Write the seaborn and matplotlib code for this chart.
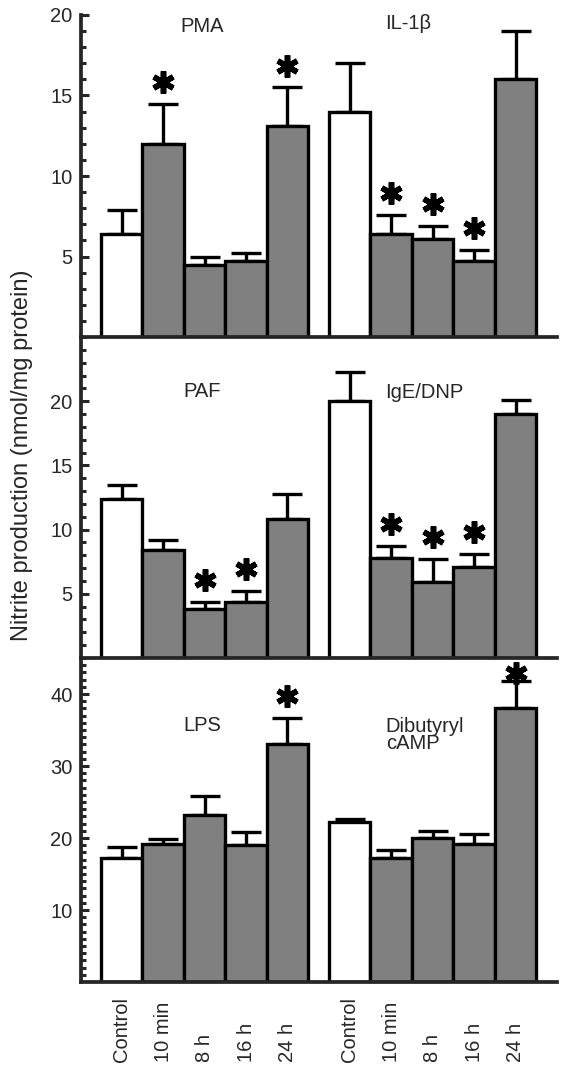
"""
Nitrite production after stimulation - 3 stacked panels, two stimuli per panel
"""

import numpy as np
import pandas as pd
import matplotlib
matplotlib.use("Agg")
import matplotlib.pyplot as plt
import seaborn as sns

sns.set_style("ticks")
plt.rcParams['font.family'] = ['Liberation Sans', 'DejaVu Sans']

# Data: mean and upper error (SEM)
conditions = ["Control", "10 min", "8 h", "16 h", "24 h"]

pma_vals = [6.4, 12.0, 4.5, 4.7, 13.1]
pma_err = [1.5, 2.5, 0.5, 0.5, 2.4]
pma_star = [0, 1, 0, 0, 1]

il1b_vals = [14.0, 6.4, 6.1, 4.7, 16.0]
il1b_err = [3.0, 1.2, 0.8, 0.7, 3.0]
il1b_star = [0, 1, 1, 1, 0]

paf_vals = [12.4, 8.4, 3.8, 4.4, 10.8]
paf_err = [1.1, 0.8, 0.6, 0.8, 2.0]
paf_star = [0, 0, 1, 1, 0]

ige_vals = [20.0, 7.8, 5.9, 7.1, 19.0]
ige_err = [2.3, 0.9, 1.8, 1.0, 1.1]
ige_star = [0, 1, 1, 1, 0]

lps_vals = [17.2, 19.2, 23.2, 19.0, 33.1]
lps_err = [1.5, 0.7, 2.6, 1.9, 3.5]
lps_star = [0, 0, 0, 0, 1]

camp_vals = [22.2, 17.2, 20.0, 19.1, 38.0]
camp_err = [0.4, 1.1, 1.0, 1.4, 3.8]
camp_star = [0, 0, 0, 0, 1]

rows = [
    {"ymax": 20, "major": [5, 10, 15, 20],
     "groups": [("PMA", pma_vals, pma_err, pma_star),
                ("IL-1β", il1b_vals, il1b_err, il1b_star)]},
    {"ymax": 25, "major": [5, 10, 15, 20],
     "groups": [("PAF", paf_vals, paf_err, paf_star),
                ("IgE/DNP", ige_vals, ige_err, ige_star)]},
    {"ymax": 45, "major": [10, 20, 30, 40],
     "groups": [("LPS", lps_vals, lps_err, lps_star),
                ("Dibutyryl\ncAMP", camp_vals, camp_err, camp_star)]},
]

# layout (figure fractions) and label placement
W, H = 563, 1067
left, right = 81 / W, 557 / W
row_px = [(15, 337), (337, 658), (658, 982)]
group_start = [0.0, 5.5]
title_pos = [[(2.45, 0.965, "center"), (7.4, 0.975, "center")],
             [(2.45, 0.829, "center"), (7.8, 0.826, "center")],
             [(2.45, 0.793, "center"), (6.87, 0.762, "left")]]

LW = 2.4
palette = {"control": "white", "treated": "#808080"}

fig = plt.figure(figsize=(W / 100, H / 100), dpi=100)

for r, row in enumerate(rows):
    top_px, bot_px = row_px[r]
    ax = fig.add_axes([left, 1 - bot_px / H, right - left, (bot_px - top_px) / H])

    frames = []
    for g, (name, vals, errs, stars) in enumerate(row["groups"]):
        frames.append(pd.DataFrame({
            "pos": group_start[g] + np.arange(len(conditions)) + 0.5,
            "value": vals,
            "err": errs,
            "star": stars,
            "cond": conditions,
            "kind": ["control"] + ["treated"] * (len(conditions) - 1),
        }))
    df = pd.concat(frames, ignore_index=True)

    sns.barplot(data=df, x="pos", y="value", hue="kind", palette=palette,
                native_scale=True, dodge=False, width=1, edgecolor="black",
                linewidth=LW, errorbar=None, legend=False, ax=ax, zorder=2)

    ax.errorbar(df["pos"], df["value"], yerr=[np.zeros(len(df)), df["err"]],
                fmt="none", ecolor="black", elinewidth=LW, capsize=10.5,
                capthick=LW, zorder=1)

    # significance stars, kept inside the panel
    ymax = row["ymax"]
    st = df[df["star"] == 1]
    star_y = np.minimum(st["value"] + st["err"] + 0.068 * ymax, ymax * 0.953)
    ax.plot(st["pos"], star_y, linestyle="none", marker=(6, 2, 0), ms=16,
            mew=4, color="black", clip_on=False, zorder=4)

    # stimulus names
    for g, (name, _, _, _) in enumerate(row["groups"]):
        tx, ty, ha = title_pos[r][g]
        ax.text(tx, ty, name, transform=ax.get_xaxis_transform(), ha=ha,
                va="center", fontsize=14.5, linespacing=0.85)

    ax.set_xlim(-0.48, 11.0)
    ax.set_ylim(0, ymax)
    ax.set_yticks(row["major"])
    ax.set_yticks(np.arange(1, ymax + 1), minor=True)
    ax.set_xticks([])
    ax.set_xlabel("")
    ax.set_ylabel("")
    ax.tick_params(axis="y", which="major", direction="in", length=6,
                   width=2.2, labelsize=14.5, pad=6)
    ax.tick_params(axis="y", which="minor", direction="in", length=3.5, width=2.2)
    for side in ["top", "right"]:
        ax.spines[side].set_visible(False)
    for side in ["left", "bottom"]:
        ax.spines[side].set_linewidth(LW + 0.3)
    ax.patch.set_alpha(0)

    if r == len(rows) - 1:
        lab_y = -(1062 - bot_px) / (bot_px - top_px)
        for _, row_df in df.iterrows():
            ax.text(row_df["pos"], lab_y, row_df["cond"], rotation=90,
                    ha="center", va="bottom", fontsize=14.5,
                    transform=ax.get_xaxis_transform())

fig.text(22 / W, 1 - 455 / H, "Nitrite production (nmol/mg protein)",
         rotation=90, ha="center", va="center", fontsize=17)

fig.savefig("out.png", dpi=100)
